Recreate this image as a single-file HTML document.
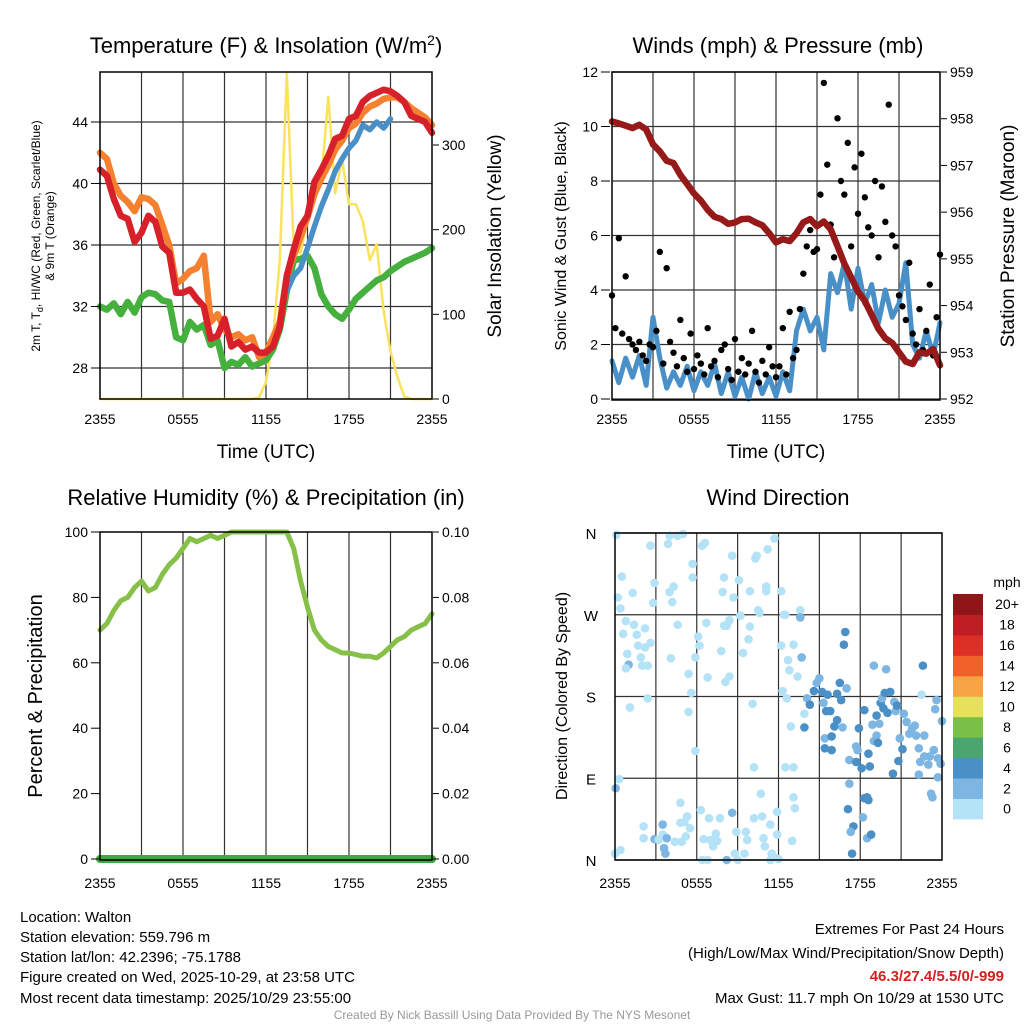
<!DOCTYPE html>
<html><head><meta charset="utf-8">
<style>
html,body{margin:0;padding:0;background:#fff;}
svg{display:block;font-family:"Liberation Sans",sans-serif;}
</style></head>
<body>
<svg id="chart" width="1024" height="1024" viewBox="0 0 1024 1024" xmlns="http://www.w3.org/2000/svg">
<rect width="1024" height="1024" fill="#fff"/>
<g id="p1"></g>
<g id="p2"></g>
<g id="p3"></g>
<g id="p4"></g>

<text x="266" y="53" font-size="22" text-anchor="middle">Temperature (F) &amp; Insolation (W/m<tspan dy="-8" font-size="14">2</tspan><tspan dy="8">)</tspan></text>
<text x="778" y="53" font-size="22" text-anchor="middle">Winds (mph) &amp; Pressure (mb)</text>
<text x="266" y="505" font-size="22" text-anchor="middle">Relative Humidity (%) &amp; Precipitation (in)</text>
<text x="778" y="505" font-size="22" text-anchor="middle">Wind Direction</text>

<g font-size="12">
<text transform="translate(40,236) rotate(-90)" text-anchor="middle">2m T, T<tspan dy="3" font-size="9">d</tspan><tspan dy="-3">, HI/WC (Red, Green, Scarlet/Blue)</tspan></text>
<text transform="translate(54,236) rotate(-90)" text-anchor="middle">&amp; 9m T (Orange)</text>
</g>
<text transform="translate(501,236) rotate(-90)" font-size="19" text-anchor="middle">Solar Insolation (Yellow)</text>
<text transform="translate(566,236) rotate(-90)" font-size="16" text-anchor="middle">Sonic Wind &amp; Gust (Blue, Black)</text>
<text transform="translate(1014,236) rotate(-90)" font-size="19" text-anchor="middle">Station Pressure (Maroon)</text>
<text transform="translate(42,696) rotate(-90)" font-size="20" text-anchor="middle">Percent &amp; Precipitation</text>
<text transform="translate(567,696) rotate(-90)" font-size="16" text-anchor="middle">Direction (Colored By Speed)</text>
<text x="266" y="458" font-size="19" text-anchor="middle">Time (UTC)</text>
<text x="776" y="458" font-size="19" text-anchor="middle">Time (UTC)</text>

<g font-size="15">
<text x="20" y="922">Location: Walton</text>
<text x="20" y="942">Station elevation: 559.796 m</text>
<text x="20" y="962">Station lat/lon: 42.2396; -75.1788</text>
<text x="20" y="982">Figure created on Wed, 2025-10-29, at 23:58 UTC</text>
<text x="20" y="1003">Most recent data timestamp: 2025/10/29 23:55:00</text>
</g>
<g font-size="15" text-anchor="end">
<text x="1004" y="934">Extremes For Past 24 Hours</text>
<text x="1004" y="958">(High/Low/Max Wind/Precipitation/Snow Depth)</text>
<text x="1004" y="981" fill="#d42020" font-weight="bold">46.3/27.4/5.5/0/-999</text>
<text x="1004" y="1003">Max Gust: 11.7 mph On 10/29 at 1530 UTC</text>
</g>
<text x="512" y="1019" font-size="12" fill="#999" text-anchor="middle">Created By Nick Bassill Using Data Provided By The NYS Mesonet</text>
</svg>
<script>
const timeTicks = ["2355","0555","1155","1755","2355"];
const tempRed = [40.9,40.5,39,37.9,37.7,36.2,36.8,37.9,37.5,35.9,35.5,32.9,32.9,33.1,32.5,32,29.9,30.1,31.2,29.4,29.7,29.2,29.4,29,29,29.4,30.7,34,35.7,37.2,37.9,40.1,40.9,41.8,42.9,43.1,44.2,44.4,45.3,45.7,45.9,46.1,46,45.7,45.3,44.4,44.2,44,43.3];
const temp9m = [42,41.6,40,39.2,38.8,38.2,39.1,39,38.6,37.3,36,33.5,33.8,34.3,34.5,35.3,31,31.5,30.5,30,30.2,29.8,30,28.7,29,30,31,34,35.3,36.5,37.8,39.3,40.3,41.2,42.2,42.8,43.6,43.9,44.6,45,45.2,45.5,45.6,45.6,45.3,44.9,44.6,44.3,43.8];
const heatIdx = [null,null,null,null,null,null,null,null,null,null,null,null,null,null,null,null,null,null,null,null,null,null,null,null,null,null,null,33,34,34.5,35.8,37.2,38.5,39.6,40.8,41.6,42.3,42.8,43.8,43.5,44,43.6,44.2,null,null,null,null,null,null];
const dewpt = [32,31.8,32.2,31.5,32.3,31.6,32.6,32.9,32.8,32.4,32.3,30,29.8,31,30.5,30.8,29.5,29.8,28,28.4,28.2,28.7,28.1,28.3,28.5,29.2,30.5,33,35,35.1,35.3,34.5,32.8,32,31.5,31.2,31.8,32.5,32.9,33.3,33.7,33.9,34.3,34.6,34.9,35.1,35.3,35.5,35.8];
const solar = [0,0,0,0,0,0,0,0,0,0,0,0,0,0,0,0,0,0,0,0,0,0,0,2,20,70,164,385,180,172,215,243,258,357,243,283,230,230,210,164,183,104,56,26,3,0,0,0,0];
const pressure = [957.94,957.9,957.85,957.8,957.87,957.77,957.45,957.3,957.1,957.05,956.8,956.6,956.4,956.25,956.05,955.9,955.85,955.75,955.78,955.85,955.86,955.78,955.72,955.55,955.35,955.42,955.38,955.55,955.78,955.85,955.7,955.8,955.63,955.27,954.9,954.6,954.3,954.1,953.8,953.5,953.3,953.2,953.0,952.8,952.75,953.0,952.97,953.07,952.72];
const windSpd = [1.4,0.6,1.5,0.8,1.6,0.5,3.0,1.5,0.4,1.0,0.5,1.2,0.3,1.0,0.5,1.3,0.2,1.0,0.1,0.8,0.0,1.0,0.2,0.8,0.1,1.0,0.3,2.5,3.3,2.5,3.0,1.8,4.6,3.9,5.0,3.3,4.8,3.5,4.2,2.8,4.0,3.0,3.5,5.0,2.0,1.5,2.5,1.6,2.8];
const gusts = [3.8,2.6,5.9,2.4,4.5,2.2,2.0,1.8,2.1,1.6,1.4,2.0,1.9,2.5,5.4,1.3,4.8,2.1,1.7,1.2,2.9,1.5,1.0,2.4,1.1,1.6,1.3,0.9,2.6,1.2,1.4,0.8,1.8,2.0,1.1,0.7,2.2,1.0,1.5,0.9,1.3,2.5,1.0,0.6,1.4,0.9,1.9,1.2,0.8,1.2,2.6,0.9,3.2,1.5,1.8,3.3,4.6,5.6,6.2,5.4,5.5,7.5,11.6,8.6,6.4,5.2,10.3,8.0,7.5,9.4,5.6,8.5,6.8,9.0,7.4,6.3,6.0,8.0,5.2,7.8,6.5,10.8,6.0,5.6,3.8,3.4,2.9,5.0,2.4,2.0,3.3,1.8,2.5,4.2,1.6,3.0,5.3];
const rh = [70,72,76,79,80,83,85,82,83,87,90,92,95,98,97,98,99,98,99,100,100,100,100,100,100,100,100,100,95,85,77,70,67,65,64,63,63,62.5,62,62,61.5,63,65,67,68,70,71,72,75];
const precip = [0,0,0,0,0,0,0,0,0,0,0,0,0,0,0,0,0,0,0,0,0,0,0,0,0,0,0,0,0,0,0,0,0,0,0,0,0,0,0,0,0,0,0,0,0,0,0,0,0];
const dirHour = [0.1,0.5,0.2,0.4,0.8,0.6,0.9,1.0,0.8,1.1,1.3,1.4,1.6,1.7,1.9,2.0,2.2,2.2,2.4,2.4,2.6,2.6,2.8,2.9,4.0,3.9,4.0,4.2,4.3,4.1,4.6,4.6,5.0,5.7,5.7,6.1,6.2,5.9,5.4,5.6,5.4,5.9,6.4,6.6,6.7,6.8,7.8,8.0,8.2,8.4,8.4,8.1,7.9,8.0,8.6,8.7,9.1,9.2,9.4,9.8,9.9,9.9,10.3,10.4,10.5,10.6,11.1,11.1,11.2,11.7,12.2,12.4,12.5,12.2,12.7,12.8,13.1,13.4,13.6,13.6,13.7,12.3,12.6,10.1,12.9,13.1,12.5,10.2,13.9,13.9,14.1,14.3,14.6,14.8,15.0,15.2,15.3,15.6,15.4,15.4,15.9,15.5,15.8,15.9,16.1,16.3,16.3,16.5,16.6,16.7,17.0,16.9,16.8,17.2,17.2,17.1,17.5,17.3,17.4,17.7,17.8,17.7,18.1,17.9,18.3,18.6,18.3,18.5,18.6,18.2,18.5,18.8,18.7,18.9,19.0,19.2,19.3,19.2,19.4,19.5,19.6,19.8,19.7,20.0,20.2,20.5,20.6,20.7,20.9,21.1,20.8,20.4,19.0,19.9,22.6,22.5,21.2,21.4,21.6,21.8,22.0,22.1,22.3,22.7,22.4,22.7,23.1,23.4,23.0,23.7,23.9,23.7,22.3,23.2,23.3,23.5,23.6,24.0,0,0.4,0.05,0.3,2.1,2.1,2.9,3.2,3.5,3.5,3.6,3.7,3.8,4.4,4.9,5.2,4.8,5.1,5.3,4.8,5.5,6.3,6.5,6.9,7.0,7.2,7.4,7.5,7.7,8.2,8.6,8.8,9.0,8.9,9.5,9.6,9.7,10.2,10.7,10.8,10.9,11.0,11.4,11.5,11.6,11.9,11.9,11.4,12.0,13.0,13.1,13.2,6.4,6.8];
const dirDeg = [358,312,289,277,263,249,227,215,211,168,294,259,248,236,223,214,255,234,214,178,346,239,283,305,357,348,295,284,301,222,259,357,359,326,311,246,236,223,205,184,163,120,346,349,261,201,230,258,258,264,202,196,295,311,335,289,308,269,228,243,257,296,332,335,275,272,301,296,342,354,296,270,270,236,220,209,237,202,275,267,223,186,178,172,147,102,102,102,161,146,178,171,186,195,200,185,173,182,134,123,121,164,164,136,147,154,183,195,176,146,189,251,237,110,84,56,37,31,7,125,121,108,101,145,165,117,68,69,66,47,24,28,103,149,131,137,129,159,150,173,178,184,167,162,185,174,164,170,134,122,109,95,214,210,214,182,161,152,139,145,148,137,123,137,108,114,114,121,105,112,106,91,94,73,69,166,176,153,7,11,79,89,37,24,23,22,28,39,13,7,24,20,20,26,41,42,48,63,35,55,23,46,22,15,29,21,46,0,52,7,0,31,7,31,22,46,73,48,24,15,39,7,4,53,28,0,1,21,69,57,0,0];
const dirSpd = [1,1,1,1,1,1,1,3,1,1,1,1,1,1,1,1,1,1,1,1,1,1,1,1,1,1,1,1,1,1,1,1,1,1,1,1,1,1,1,1,1,1,1,1,1,1,1,1,1,1,1,1,1,1,1,1,1,1,1,1,1,1,1,1,1,1,1,1,1,1,1,1,1,1,1,1,1,1,1,3,3,1,1,1,1,1,1,1,1,5,3,5,5,3,3,5,3,5,3,5,5,5,5,5,5,5,5,5,5,3,3,5,5,3,3,5,5,3,5,3,3,5,5,5,5,5,5,5,5,3,3,5,5,3,3,3,5,5,3,5,3,5,5,5,5,3,3,5,3,5,5,5,3,3,5,1,3,3,3,3,3,3,3,3,3,3,3,3,3,3,3,3,3,3,3,3,3,3,1,1,3,1,1,1,3,1,1,3,3,3,3,1,1,1,1,1,1,1,1,1,1,1,1,1,1,1,1,3,3,1,1,1,1,1,1,1,1,1,1,1,1,1,1,1,1,1,1,1,1,1,1,1,1,1,1,1,1,1,1];
const tempTicks = [28,32,36,40,44];
const solarTicks = [0,100,200,300];
const windTicks = [0,2,4,6,8,10,12];
const presTicks = [952,953,954,955,956,957,958,959];
const rhTicks = [0,20,40,60,80,100];
const precipTicks = ["0.00","0.02","0.04","0.06","0.08","0.10"];
const dirTicks = [0,90,180,270,360];
const dirLabels = ["N","E","S","W","N"];
const cbLabels = ["0","2","4","6","8","10","12","14","16","18","20+"];
const cbColors = ["#b4e2f7","#7db6e2","#4a8fc6","#4aa56e","#7abf48","#e6e15b","#f6a344","#ef6129","#dc3027","#be1e24","#8f1518"];

const NS="http://www.w3.org/2000/svg";
function mk(tag, attrs, parent){const e=document.createElementNS(NS,tag);for(const k in attrs)e.setAttribute(k,attrs[k]);parent.appendChild(e);return e;}
function lin(d0,d1,r0,r1){return v=>r0+(v-d0)/(d1-d0)*(r1-r0);}
function linePath(vals, xs, ys){let d="",pen=false;vals.forEach((v,i)=>{if(v===null){pen=false;return;}d+=(pen?"L":"M")+xs(i).toFixed(1)+" "+ys(v).toFixed(1);pen=true;});return d;}

function frame(g,x0,x1,y0,y1,hy,nv){
  for(let i=1;i<nv;i++){const x=x0+(x1-x0)*i/nv;
    const l=mk("line",{x1:x,x2:x,y1:y0,y2:y1,stroke:"#333","stroke-width":1.2},g);
    
    }
  hy.forEach(y=>{const l=mk("line",{x1:x0,x2:x1,y1:y,y2:y,stroke:"#333","stroke-width":1.2},g);
    
    });
}
function border(g,x0,x1,y0,y1){
  const r=mk("rect",{x:x0,y:y0,width:x1-x0,height:y1-y0,fill:"none",stroke:"#000","stroke-width":1.5},g);
  
  
}
function xTicks(g,x0,x1,y){
  timeTicks.forEach((t,i)=>{const x=x0+(x1-x0)*i/4;
    const tx=mk("text",{x:x,y:y,"font-size":14,"text-anchor":"middle"},g);tx.textContent=t;
    
    });
}
function yTickText(g,x,y,txt,anchor){
  const tx=mk("text",{x:x,y:y+5,"font-size":14,"text-anchor":anchor},g);tx.textContent=txt;
  
  
  const tl=mk("line",{x1:anchor==="end"?x+3:x-9,x2:anchor==="end"?x+12:x-3,y1:y,y2:y,stroke:"#000","stroke-width":1},g);
  
  
}
function series(g,d,color,w,name){
  const p=mk("path",{d:d,fill:"none",stroke:color,"stroke-width":w,"stroke-linejoin":"round","stroke-linecap":"round"},g);
  
  
}

(function(){
  const g=document.getElementById("p1");const X0=100,X1=432,Y0=72,Y1=399;
  const xs=lin(0,48,X0,X1), yT=lin(28,44,368,122), yS=lin(0,300,399,145);
  frame(g,X0,X1,Y0,Y1,tempTicks.map(yT),8);
  series(g,linePath(solar,xs,yS),"#f9e35c",2.5,"solar-insolation-line");
  series(g,linePath(dewpt,xs,yT),"#45b03d",6.5,"dewpoint-line");
  series(g,linePath(temp9m,xs,yT),"#f58030",6.5,"temp-9m-line");
  series(g,linePath(heatIdx,xs,yT),"#4a90c8",5.5,"heat-index-line");
  series(g,linePath(tempRed,xs,yT),"#d7202a",6.5,"temp-2m-line");
  border(g,X0,X1,Y0,Y1);
  tempTicks.forEach(v=>yTickText(g,88,yT(v),String(v),"end"));
  solarTicks.forEach(v=>yTickText(g,442,yS(v),String(v),"start"));
  xTicks(g,X0,X1,424);
})();

(function(){
  const g=document.getElementById("p2");const X0=612,X1=940,Y0=72,Y1=400;
  const xs=lin(0,48,X0,X1), xg=lin(0,96,X0,X1), yW=lin(0,12,399,72), yP=lin(952,959,399,72);
  frame(g,X0,X1,Y0,Y1,windTicks.map(yW),8);
  series(g,linePath(windSpd,xs,yW),"#4a90c8",5,"sonic-wind-line");
  gusts.forEach((v,i)=>{const c=mk("circle",{cx:xg(i),cy:yW(v),r:3.2,fill:"#000"},g);
    
    });
  series(g,linePath(pressure,xs,yP),"#961a1a",6.5,"pressure-line");
  border(g,X0,X1,Y0,Y1);
  windTicks.forEach(v=>yTickText(g,598,yW(v),String(v),"end"));
  presTicks.forEach(v=>yTickText(g,950,yP(v),String(v),"start"));
  xTicks(g,X0,X1,424);
})();

(function(){
  const g=document.getElementById("p3");const X0=100,X1=432,Y0=532,Y1=860;
  const xs=lin(0,48,X0,X1), yR=lin(0,100,859,532), yP=lin(0,0.1,859,532);
  frame(g,X0,X1,Y0,Y1,[],8);
  series(g,linePath(precip,xs,yP),"#40a840",8,"precipitation-line");
  series(g,linePath(rh,xs,yR),"#86c048",5,"humidity-line");
  border(g,X0,X1,Y0,Y1);
  rhTicks.forEach(v=>yTickText(g,88,yR(v),String(v),"end"));
  precipTicks.forEach(v=>yTickText(g,442,yP(parseFloat(v)),v,"start"));
  xTicks(g,X0,X1,888);
})();

(function(){
  const g=document.getElementById("p4");const X0=615,X1=942,Y0=533,Y1=860;
  const xs=lin(0,24,X0,X1), yD=lin(0,360,860,533);
  frame(g,X0,X1,Y0,Y1,dirTicks.map(yD),8);
  dirHour.forEach((h,i)=>{const s=dirSpd[i];const col=cbColors[Math.min(10,Math.floor(s/2))];
    const c=mk("circle",{cx:xs(h),cy:yD(dirDeg[i]),r:4.3,fill:col},g);
    
    });
  border(g,X0,X1,Y0,Y1);
  dirTicks.forEach((v,i)=>{const t=mk("text",{x:591,y:yD(v)+6,"font-size":15,"text-anchor":"middle"},g);t.textContent=dirLabels[i];
    
    });
  xTicks(g,X0,X1,888);
  const cb=mk("g",{},g);
  
  
  const top=594,h=20.45;
  cbColors.forEach((c,i)=>{const y=top+(10-i)*h;
    const r=mk("rect",{x:953,y:y,width:30,height:h+0.5,fill:c},cb);
    
    
    const t=mk("text",{x:1007,y:y+h/2+5,"font-size":14,"text-anchor":"middle"},cb);t.textContent=cbLabels[i];
    
    });
  const u=mk("text",{x:1007,y:587,"font-size":14,"text-anchor":"middle"},cb);u.textContent="mph";
  
  
})();
</script>
</body></html>
